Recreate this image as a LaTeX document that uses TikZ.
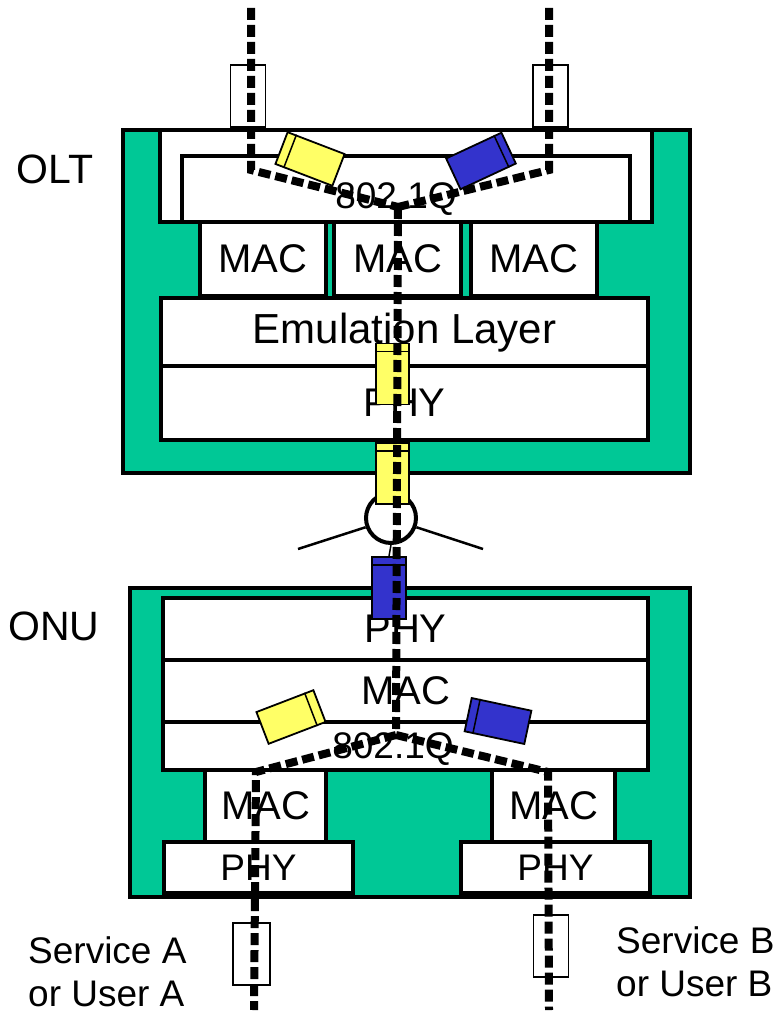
\documentclass[tikz,border=0pt]{standalone}
\usepackage{fontspec}
\setmainfont{Liberation Sans}
\usetikzlibrary{calc}
\definecolor{ponGreen}{HTML}{00C896}
\definecolor{ponYellow}{HTML}{FFFF66}
\definecolor{ponBlue}{HTML}{3333CC}

\begin{document}
\begin{tikzpicture}[x=1pt, y=-1pt,
    shell/.style={draw, line width=4pt, fill=ponGreen, inner sep=0pt},
    layer/.style={draw, line width=3.5pt, fill=white, inner sep=0pt, font=\fontsize{40}{44}\selectfont},
    small/.style={font=\fontsize{37}{43}\selectfont},
    packet/.style={draw, line width=1.8pt, inner sep=0pt, minimum width=61pt, minimum height=34pt},
    upright/.style={draw, line width=1.8pt, inner sep=0pt, minimum width=33pt, minimum height=61pt},
    tagbox/.style={draw, line width=1.3pt, inner sep=0pt, minimum width=35pt, minimum height=62pt},
    fibre/.style={line width=8pt, dash pattern=on 12pt off 5pt, line cap=butt}]
  \useasboundingbox (0,0) rectangle (780,1011);

  % OLT stack
  \node[shell, minimum width=567pt, minimum height=343pt] (olt) at (406.5,301.5) {};
  \node[layer, minimum width=492pt, minimum height=92pt] (qout) at (406,176) {};
  \node[layer, minimum width=448pt, minimum height=66pt] (qin) at (406,189) {};
  \node[small] (qtxt) at (396,199) {802.1Q};
  \node[layer, minimum width=126pt, minimum height=74pt] (mac1) at (263,259) {MAC};
  \node[layer, minimum width=127pt, minimum height=74pt] (mac2) at (397.5,259) {MAC};
  \node[layer, minimum width=126pt, minimum height=74pt] (mac3) at (534,259) {MAC};
  \node[layer, font=\fontsize{42}{46}\selectfont, minimum width=487pt, minimum height=70pt] (emu) at (404.5,333) {Emulation Layer};
  \node[layer, minimum width=487pt, minimum height=74pt] (phy) at (404.5,403) {PHY};
  \node[font=\fontsize{41}{45}\selectfont] (oltlbl) at (55,169) {OLT};

  % ONU stack
  \node[shell, minimum width=560pt, minimum height=309pt] (onu) at (410,742.5) {};
  \node[layer, minimum width=485pt, minimum height=62pt] (ophy) at (405.5,629) {PHY};
  \node[layer, minimum width=485pt, minimum height=62pt] (omac) at (405.5,691) {MAC};
  \node[layer, minimum width=485pt, minimum height=48pt] (oq) at (405.5,746) {};
  \node[small] (oqtxt) at (393,749) {802.1Q};
  \node[layer, minimum width=121pt, minimum height=72pt] (bmac1) at (265.5,806) {MAC};
  \node[layer, small, minimum width=189pt, minimum height=51pt] (bphy1) at (258.5,867.5) {PHY};
  \node[layer, minimum width=123pt, minimum height=72pt] (bmac2) at (553.5,806) {MAC};
  \node[layer, small, minimum width=189pt, minimum height=51pt] (bphy2) at (555.5,867.5) {PHY};
  \node[font=\fontsize{41}{45}\selectfont] (onulbl) at (54,626) {ONU};

  % user labels
  \node[small, anchor=west, align=left, inner sep=0pt] (usrA) at (28,972) {Service A\\or User A};
  \node[small, anchor=west, align=left, inner sep=0pt] (usrB) at (616,962) {Service B\\or User B};

  % tag boxes on the fibres
  \node[tagbox] (tl) at (248,96) {};
  \node[tagbox] (tr) at (550.5,96) {};
  \node[tagbox, minimum width=37pt] (bl) at (251.5,954) {};
  \node[tagbox] (br) at (551,946) {};

  % splitter
  \node[draw, circle, line width=4pt, fill=white, minimum size=50pt, inner sep=0pt] (spl) at (391,518) {};
  \coordinate (armL) at (298,549);
  \coordinate (armR) at (483,549);
  \draw[line width=2.5pt] (spl.200) -- (armL);
  \draw[line width=2.5pt] (spl.-20) -- (armR);

  % frames
  \node[upright, fill=ponYellow] (py1) at (392.5,374) {};
  \node[upright, fill=ponYellow] (py2) at (392.5,473.5) {};
  \node[upright, fill=ponBlue, minimum width=34pt, minimum height=62pt] (pb) at (389,588) {};
  \draw[line width=1.5pt] (spl.south) -- (pb.north);
  \foreach \p in {py1,py2,pb}
    \draw[line width=1.5pt] ($(\p.north west)!0.14!(\p.south west)$) -- ($(\p.north east)!0.14!(\p.south east)$);

  \node[packet, fill=ponYellow, rotate=-21] (ya) at (310,159) {};
  \node[packet, fill=ponBlue, rotate=25] (ba) at (481,161) {};
  \node[packet, fill=ponYellow, rotate=21] (yb) at (291,717) {};
  \node[packet, fill=ponBlue, rotate=-12] (bb) at (498,721) {};
  \foreach \p/\t in {ya/0.16, ba/0.86, yb/0.84, bb/0.15}
    \draw[line width=1.5pt] ($(\p.north west)!\t!(\p.north east)$) -- ($(\p.south west)!\t!(\p.south east)$);

  % fibres
  \coordinate (inA) at (251,8);
  \coordinate (inB) at (549,8);
  \coordinate (bendA) at (251,170);
  \coordinate (bendB) at (549,170);
  \coordinate (j1) at (398,207);
  \coordinate (j2) at (396,735);
  \coordinate (outA) at (256,772);
  \coordinate (outB) at (548,772);
  \coordinate (endA) at (254,1010);
  \coordinate (endB) at (549,1010);
  \draw[fibre] (inA) -- (bendA) -- (j1);
  \draw[fibre] (inB) -- (bendB) -- (j1);
  \draw[fibre] (j1) -- (j2);
  \draw[fibre] (j2) -- (outA) -- (endA);
  \draw[fibre] (j2) -- (outB) -- (endB);
\end{tikzpicture}
\end{document}
